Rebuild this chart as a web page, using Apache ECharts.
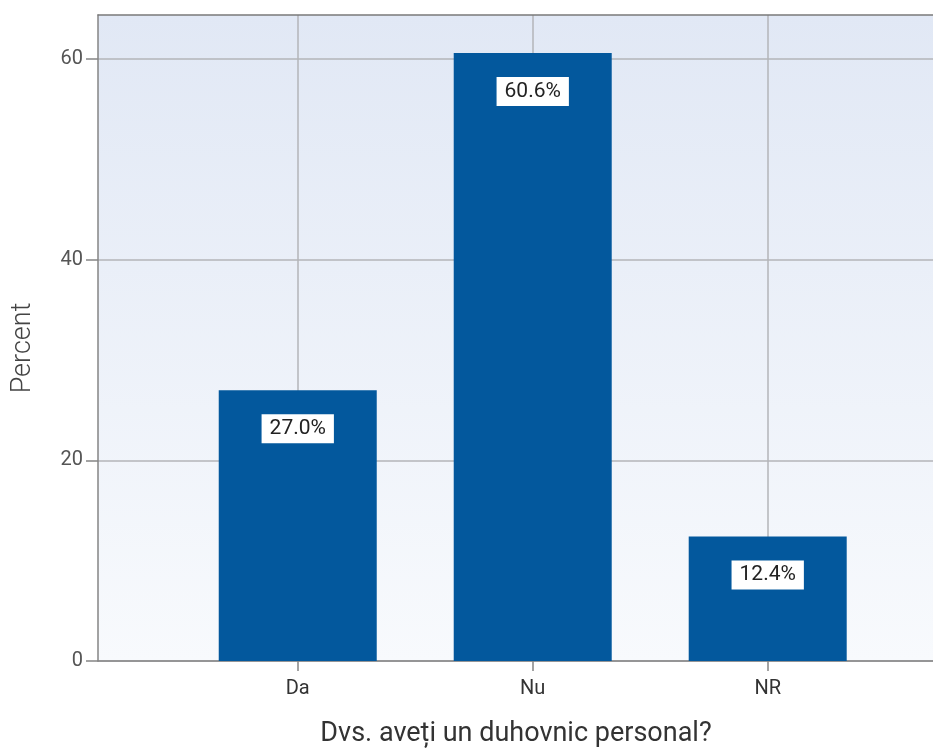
<!DOCTYPE html>
<html>
<head>
<meta charset="utf-8">
<script src="https://cdn.jsdelivr.net/npm/echarts@6/dist/echarts.min.js"></script>
<style>html,body{margin:0;padding:0;background:#fff;overflow:hidden}#c{width:933px;height:749px}</style>
</head>
<body>
<div id="c"></div>
<script>
var categories = ['Da', 'Nu', 'NR'];
var categoryPositions = [1, 2, 3];
var percentValues = [27.0, 60.6, 12.4];
var yTickValues = [0, 20, 40, 60];
var xTitle = 'Dvs. aveți un duhovnic personal?';
var yTitle = 'Percent';

var chart = echarts.init(document.getElementById('c'), null, {renderer: 'canvas'});
var barData = categories.map(function (c, i) { return [categoryPositions[i], percentValues[i]]; });
var FONT = 'Roboto';
var X_MIN = 0.15, X_MAX = 3.98;
chart.setOption({
  animation: false,
  textStyle: {fontFamily: FONT},
  grid: {
    left: 98, top: 15, width: 900, height: 646,
    outerBoundsMode: 'none',
    containLabel: false,
    show: true,
    borderWidth: 0,
    backgroundColor: new echarts.graphic.LinearGradient(0, 0, 0, 1, [
      {offset: 0, color: '#e1e8f5'},
      {offset: 1, color: '#f8fafd'}
    ])
  },
  xAxis: [{
    type: 'value', min: X_MIN, max: X_MAX, position: 'bottom',
    name: xTitle, nameLocation: 'middle', nameGap: 60,
    nameTextStyle: {fontSize: 27, color: '#333', fontFamily: FONT, padding: [0, 64, 0, 0]},
    axisLine: {show: true, lineStyle: {color: '#858585', width: 1.5}},
    axisTick: {show: true, customValues: categoryPositions, length: 10, lineStyle: {color: '#858585', width: 1.5}},
    axisLabel: {customValues: categoryPositions, fontSize: 20, color: '#333', margin: 18,
      formatter: function (v) { var i = categoryPositions.indexOf(Math.round(v)); return i >= 0 ? categories[i] : ''; }},
    splitLine: {show: true, lineStyle: {color: '#b3b5b9', width: 1.5}}
  }, {
    type: 'value', min: X_MIN, max: X_MAX, position: 'top',
    axisLine: {show: true, onZero: false, lineStyle: {color: '#7a7a7a', width: 1.5}},
    axisTick: {show: false}, axisLabel: {show: false}, splitLine: {show: false}
  }],
  yAxis: {
    type: 'value', min: 0, max: 64.4,
    name: yTitle, nameLocation: 'middle', nameGap: 61, nameRotate: 90,
    nameTextStyle: {fontSize: 27, color: '#444', fontWeight: 300, fontFamily: FONT, padding: [0, 20, 0, 0]},
    axisLine: {show: true, lineStyle: {color: '#858585', width: 1.5}},
    axisTick: {show: true, customValues: yTickValues, length: 12, lineStyle: {color: '#858585', width: 1.5}},
    axisLabel: {customValues: yTickValues, fontSize: 20, color: '#555', margin: 15},
    splitLine: {show: true, lineStyle: {color: '#b3b5b9', width: 1.5}}
  },
  series: [{
    type: 'bar',
    xAxisIndex: 0,
    data: barData,
    barWidth: 158,
    itemStyle: {color: '#03589d'},
    label: {
      show: true, position: 'insideTop', distance: 24,
      backgroundColor: '#ffffff', padding: [4, 8],
      color: '#222', fontSize: 21, fontFamily: FONT,
      formatter: function (p) { return p.value[1].toFixed(1) + '%'; }
    }
  }]
});
</script>
</body>
</html>
